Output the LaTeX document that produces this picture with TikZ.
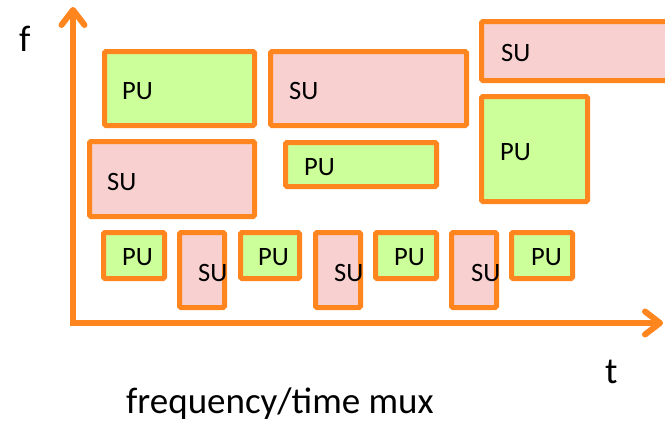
\documentclass[tikz,border=0pt]{standalone}
\usepackage{fontspec}
\setmainfont{Carlito}
\usetikzlibrary{arrows.meta,fit}

\definecolor{axisorange}{RGB}{255,133,30}
\definecolor{pugreen}{RGB}{204,255,153}
\definecolor{supink}{RGB}{248,208,208}

\pgfdeclareradialshading{slideglow}{\pgfpoint{0bp}{0bp}}{%
  color(0bp)=(white); color(30bp)=(white); color(50bp)=(black!9)}

\tikzset{
  slot/.style={draw=axisorange, line width=5pt, rounded corners=1.5pt,
    inner sep=0pt, outer sep=0pt},
  puslot/.style={slot, fill=pugreen},
  suslot/.style={slot, fill=supink},
  tag/.style={anchor=base west, inner sep=0pt, font=\fontsize{26.5}{30}\selectfont},
  axislabel/.style={anchor=base west, inner sep=0pt, font=\fontsize{37}{42}\selectfont},
  axisline/.style={draw=axisorange, line width=6pt,
    -{Straight Barb[length=15pt, width=23pt, line cap=round, line join=round]}},
}

\begin{document}
\begin{tikzpicture}[x=1pt, y=-1pt]
  % page area with a faint grey glow towards the lower right
  \useasboundingbox (0,0) rectangle (665,421);
  \begin{scope}
    \clip (0,0) rectangle (665,421);
    \fill[white] (0,0) rectangle (665,421);
    \shade[shading=slideglow] (200,100) circle (620);
  \end{scope}

  % top band
  \node[puslot, fit={(104.5,51.5)(254.5,125.5)}] (pu1) {};
  \node[suslot, fit={(270.5,51.5)(466.5,125.5)}] (su1) {};
  \node[suslot, fit={(481.5,21.5)(672,80.5)}] (su3) {};
  % middle band
  \node[suslot, fit={(89.5,141.5)(254.5,216.5)}] (su2) {};
  \node[puslot, fit={(285.5,142.5)(436.5,186.5)}] (pu2) {};
  \node[puslot, fit={(481.5,96.5)(587.5,201.5)}] (pu3) {};
  % narrow slots along the bottom
  \node[puslot, fit={(103.5,232.5)(164.5,278.5)}] (b1) {};
  \node[suslot, fit={(179.5,232.5)(224.5,307.5)}] (b2) {};
  \node[puslot, fit={(240.5,232.5)(299.5,278.5)}] (b3) {};
  \node[suslot, fit={(315.5,232.5)(360.5,307.5)}] (b4) {};
  \node[puslot, fit={(375.5,232.5)(436.5,278.5)}] (b5) {};
  \node[suslot, fit={(451.5,232.5)(496.5,307.5)}] (b6) {};
  \node[puslot, fit={(511.5,232.5)(572.5,278.5)}] (b7) {};

  % slot labels
  \node[tag] (tpu1) at (122,99) {PU};
  \node[tag] (tsu1) at (289,99) {SU};
  \node[tag] (tsu3) at (501,61) {SU};
  \node[tag] (tsu2) at (107,190) {SU};
  \node[tag] (tpu2) at (304,175) {PU};
  \node[tag] (tpu3) at (500,160) {PU};
  \node[tag] (tb1) at (122,265) {PU};
  \node[tag] (tb2) at (198,281) {SU};
  \node[tag] (tb3) at (258,265) {PU};
  \node[tag] (tb4) at (334,281) {SU};
  \node[tag] (tb5) at (394,265) {PU};
  \node[tag] (tb6) at (471,281) {SU};
  \node[tag] (tb7) at (531,265) {PU};

  % axes
  \coordinate (ftip) at (73,7);
  \coordinate (ttip) at (663,323);
  \coordinate (tstart) at (70,323);
  \coordinate (fstart) at (73,326);
  \draw[axisline] (fstart) -- (ftip);
  \draw[axisline] (tstart) -- (ttip);

  \node[axislabel] (flabel) at (19,51) {f};
  \node[axislabel] (tlabel) at (605,383) {t};
  \node[axislabel] (caption) at (126,413) {frequency/time mux};
\end{tikzpicture}
\end{document}
